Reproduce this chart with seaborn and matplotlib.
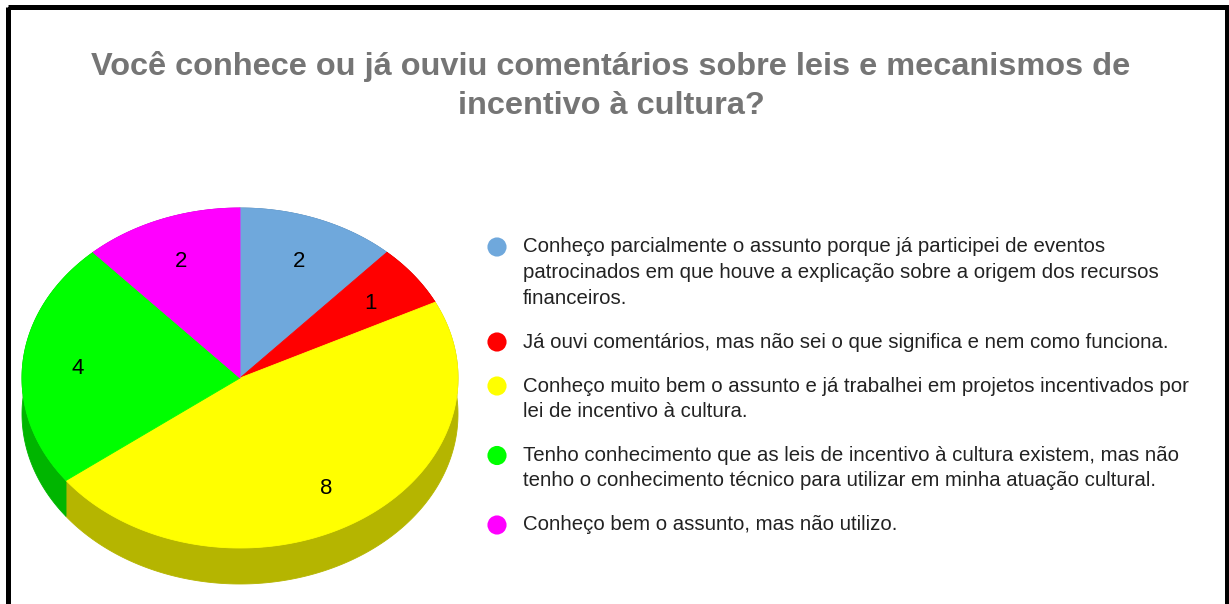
import numpy as np
import matplotlib
matplotlib.use("Agg")
import matplotlib.pyplot as plt
from matplotlib.patches import Rectangle
import seaborn as sns

title_lines = ["Você conhece ou já ouviu comentários sobre leis e mecanismos de",
               "incentivo à cultura?"]
categories = [
    "Conheço parcialmente o assunto porque já participei de eventos\n"
    "patrocinados em que houve a explicação sobre a origem dos recursos\n"
    "financeiros.",
    "Já ouvi comentários, mas não sei o que significa e nem como funciona.",
    "Conheço muito bem o assunto e já trabalhei em projetos incentivados por\n"
    "lei de incentivo à cultura.",
    "Tenho conhecimento que as leis de incentivo à cultura existem, mas não\n"
    "tenho o conhecimento técnico para utilizar em minha atuação cultural.",
    "Conheço bem o assunto, mas não utilizo.",
]
counts = [2, 1, 8, 4, 2]
colors = ["#6fa8dc", "#ff0000", "#ffff00", "#00ff00", "#ff00ff"]

sns.set_theme(style="white")
plt.rcParams["font.family"] = ["Liberation Sans", "DejaVu Sans"]

W, H = 1229, 604
fig = plt.figure(figsize=(W / 100, H / 100), dpi=100)
ax = fig.add_axes([0, 0, 1, 1])

# pie geometry (pixels), 3d look like google charts
cx, cy, rx, ry, depth = 240, 378, 218, 170, 36

total = sum(counts)
edges = np.concatenate([[0], np.cumsum(counts)]) / total * 2 * np.pi  # clockwise from top


def arc(a0, a1, n=200):
    t = np.linspace(a0, a1, n)
    return cx + rx * np.sin(t), cy - ry * np.cos(t)


pal = sns.color_palette(colors)

# side walls first
for i in range(len(counts)):
    x, y = arc(edges[i], edges[i + 1])
    side = tuple(np.array(pal[i]) * 0.71)
    ax.fill(np.r_[x, x[::-1]], np.r_[y, y[::-1] + depth], color=side, ec=side, lw=0.6)

# top faces
for i in range(len(counts)):
    x, y = arc(edges[i], edges[i + 1])
    ax.fill(np.r_[cx, x], np.r_[cy, y], color=pal[i], ec=pal[i], lw=0.6)

# value labels
mid = (edges[:-1] + edges[1:]) / 2
for m, c in zip(mid, counts):
    ax.text(cx + 0.75 * rx * np.sin(m), cy - 0.75 * ry * np.cos(m) + 8, str(c),
            ha="center", va="baseline", fontsize=16, color="black")

# legend
line_h = 25.5
gap = 44
ys = []
y = 247
for lab in categories:
    ys.append(y)
    y += lab.count("\n") * line_h + gap

sns.scatterplot(x=[497] * len(categories), y=ys, hue=categories, palette=colors,
                s=190, edgecolor="none", legend=False, ax=ax)
for lab, y0 in zip(categories, ys):
    for k, line in enumerate(lab.split("\n")):
        ax.text(523, y0 + k * line_h, line, ha="left", va="center",
                fontsize=14.7, color="#222222")

# title
for k, line in enumerate(title_lines):
    ax.text(611, 66 + k * 40, line, ha="center", va="center", fontsize=23.4,
            fontweight="bold", color="#757575")

# frame
ax.add_patch(Rectangle((7.5, 6.5), 1219, 660, fill=False, ec="black", lw=3.6,
                       joinstyle="miter", clip_on=False))

ax.set_xlim(0, W)
ax.set_ylim(H, 0)
ax.axis("off")

fig.savefig("out.png", dpi=100, facecolor="white")
